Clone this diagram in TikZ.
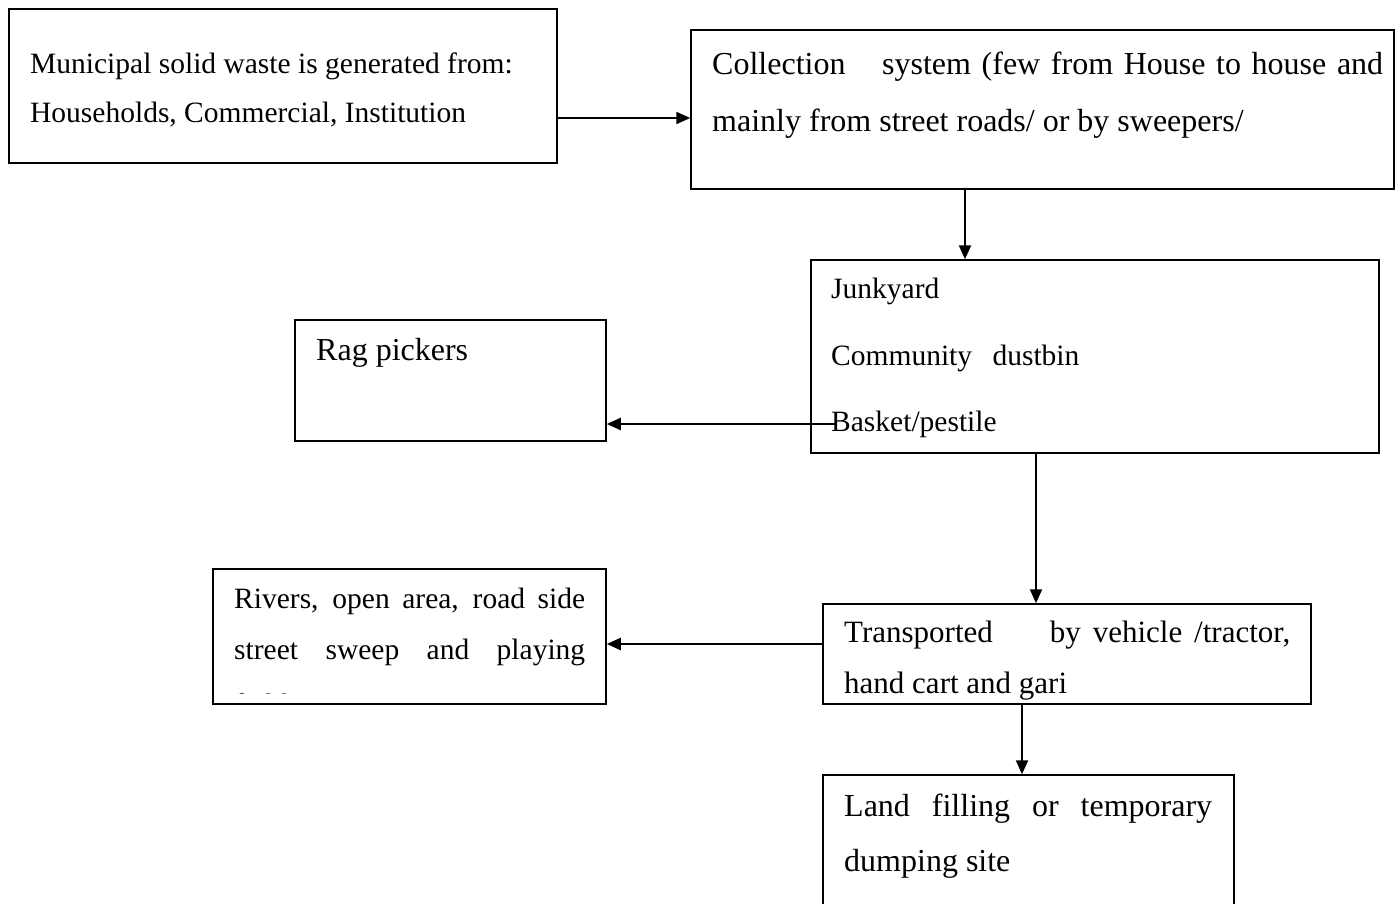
\documentclass[tikz,border=0pt]{standalone}
\usepackage{fontspec}
\setmainfont{Liberation Serif}
\usetikzlibrary{arrows.meta}
\begin{document}
\begin{tikzpicture}[x=1pt,y=-1pt,
  box/.style={draw, line width=1.5pt, rectangle, inner sep=0pt},
  txt/.style={anchor=base west, inner sep=0pt},
  fa/.style={font=\fontsize{29.5}{35}\selectfont},
  fb/.style={font=\fontsize{32}{38}\selectfont},
  ft/.style={font=\fontsize{31}{37}\selectfont},
  arr/.style={line width=2.2pt, -{Triangle[length=14pt,width=12pt]}}]
\clip (0,0) rectangle (1395,903);
% boxes
\node[box, minimum width=548pt, minimum height=154pt] (A) at (283,86) {};
\node[box, minimum width=703pt, minimum height=159pt] (B) at (1042.5,109.5) {};
\node[box, minimum width=568pt, minimum height=193pt] (C) at (1095,356.5) {};
\node[box, minimum width=311pt, minimum height=121pt] (R) at (450.5,380.5) {};
\node[box, minimum width=488pt, minimum height=100pt] (T) at (1067,654) {};
\node[box, minimum width=393pt, minimum height=135pt] (V) at (409.5,636.5) {};
\node[box, minimum width=411pt, minimum height=140pt] (L) at (1028.5,845) {};
% texts
\node[txt, fa] (a1) at (30,73) {Municipal solid waste is generated from:};
\node[txt, fa] (a2) at (30,122) {Households, Commercial, Institution};
\node[txt, fb] (b1) at (712,74) {\makebox[671pt][s]{Collection\hspace{26pt} system (few from House to house and}};
\node[txt, fb] (b2) at (712,131) {mainly from street roads/ or by sweepers/};
\node[txt, fa] (c1) at (831,298) {Junkyard};
\node[txt, fa] (c2) at (831,365) {Community\hspace{13pt} dustbin};
\node[txt, fa] (c3) at (831,431) {Basket/pestile};
\node[txt, fb] (r1) at (316,360) {Rag pickers};
\node[txt, fa] (v1) at (234,608) {\makebox[351pt][s]{Rivers, open area, road side}};
\node[txt, fa] (v2) at (234,659) {\makebox[351pt][s]{street sweep and playing}};
\begin{scope}
\clip (215,571) rectangle (604,693);
\node[txt, fa] (v3) at (234,714) {fields};
\end{scope}
\node[txt, ft] (t1) at (844,642) {\makebox[446pt][s]{Transported\hspace{45pt} by vehicle /tractor,}};
\node[txt, ft] (t2) at (844,693) {hand cart and gari};
\node[txt, fb] (l1) at (844,816) {\makebox[368pt][s]{Land filling or temporary}};
\node[txt, fb] (l2) at (844,871) {dumping site};
% connector anchors
\coordinate (yab) at (0,118);
\coordinate (xbc) at (965,0);
\coordinate (cs) at (835,424);
\coordinate (xct) at (1036,0);
\coordinate (ytv) at (0,644);
\coordinate (xtl) at (1022,0);
% connectors
\draw[arr] (A.east |- yab) -- (B.west |- yab);
\draw[arr] (B.south -| xbc) -- (C.north -| xbc);
\draw[arr] (cs) -- (R.east |- cs);
\draw[arr] (C.south -| xct) -- (T.north -| xct);
\draw[arr] (T.west |- ytv) -- (V.east |- ytv);
\draw[arr] (T.south -| xtl) -- (L.north -| xtl);
\end{tikzpicture}
\end{document}
